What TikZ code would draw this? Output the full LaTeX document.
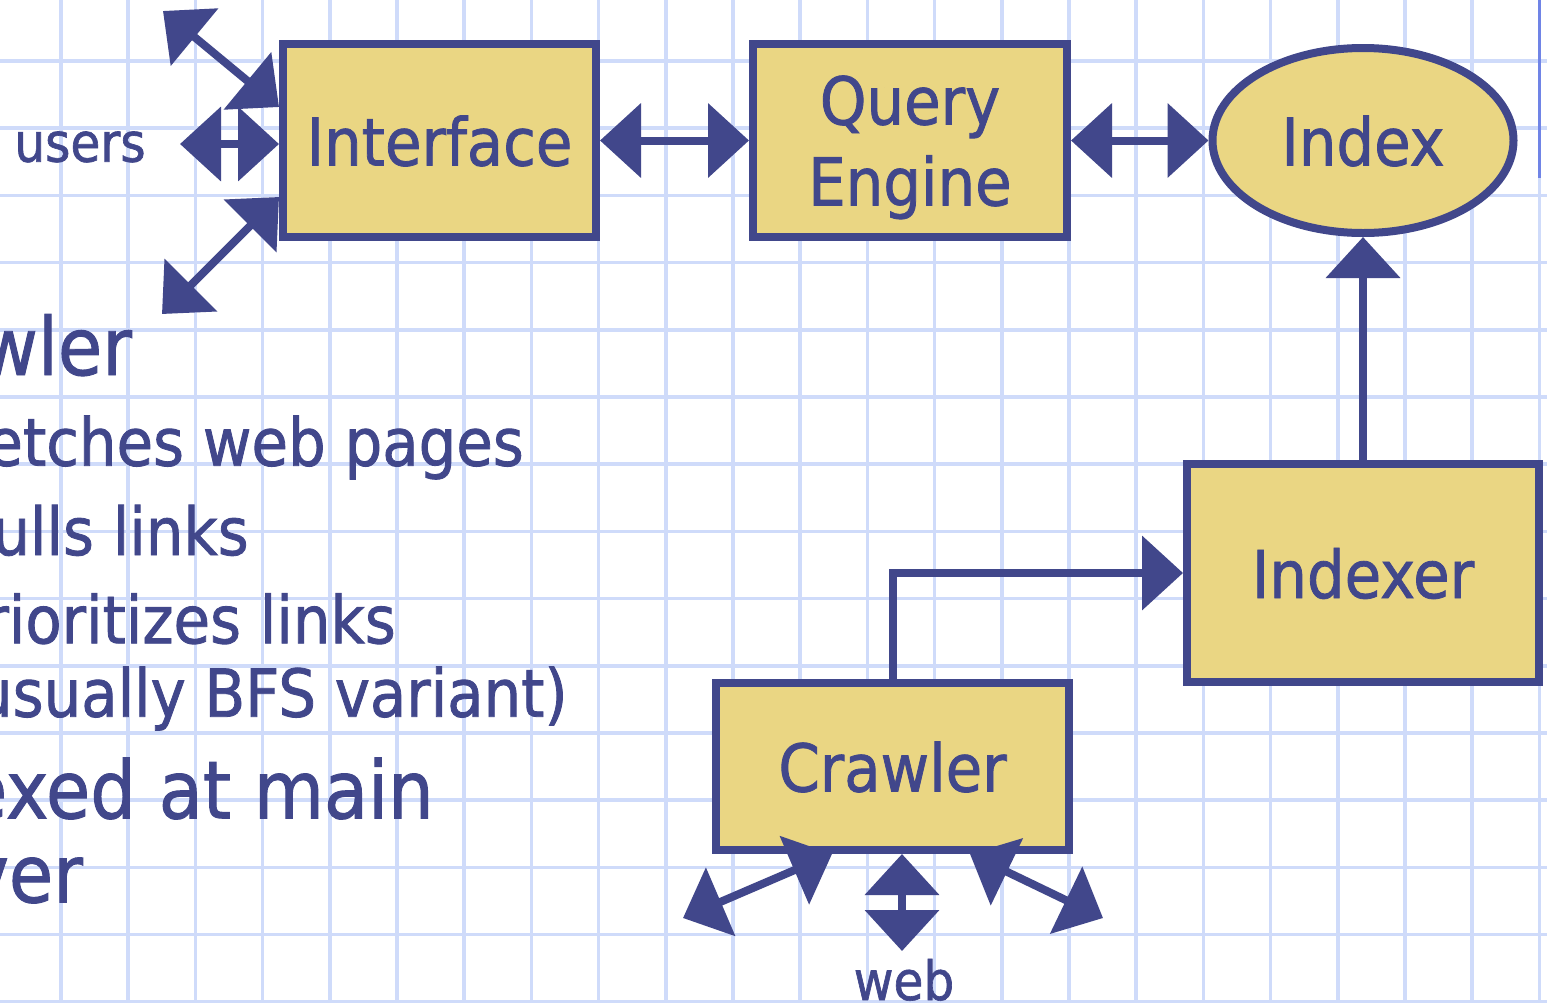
\documentclass[tikz,border=0pt]{standalone}
\usepackage{fontspec}
\setmainfont[FakeBold=1.2]{DejaVu Sans Condensed}
\usetikzlibrary{arrows.meta,shapes.geometric}
\definecolor{ink}{RGB}{65,71,139}
\definecolor{boxfill}{RGB}{234,214,131}
\definecolor{gridline}{RGB}{207,219,250}
\definecolor{rulerblue}{RGB}{112,132,230}
\newcommand\lblsize{\fontsize{66}{81}\selectfont}
\newcommand\usrsize{\fontsize{54}{64}\selectfont}
\newcommand\mainsize{\fontsize{80}{96}\selectfont}
\newcommand\subsize{\fontsize{66}{80}\selectfont}
\begin{document}
\begin{tikzpicture}[x=1pt,y=-1pt,
  >={Triangle[length=41pt,width=73pt]},
  box/.style={draw=ink,fill=boxfill,line width=8pt,text=ink,font=\lblsize,
    inner sep=0pt,text depth=0pt,align=center},
  link/.style={draw=ink,line width=8pt},
  slide/.style={anchor=base east,inner sep=0pt,text=ink},
  tag/.style={anchor=base,inner sep=0pt,text=ink,font=\usrsize}]
\useasboundingbox (0,0) rectangle (1547,1002);
\clip (0,0) rectangle (1547,1002);
\fill[white] (0,0) rectangle (1547,1002);

% squared paper
\foreach \k in {0,...,22}
  \draw[gridline,line width=3.5pt] ({61+67.2*\k},0) -- ({61+67.2*\k},1002);
\foreach \k in {0,...,14}
  \draw[gridline,line width=3.5pt] (0,{61+67.2*\k}) -- (1547,{61+67.2*\k});
\draw[rulerblue,line width=3.5pt] (1539.5,0) -- (1539.5,178);

% bullet text of the slide
\node[slide,font=\mainsize] (l1) at (132,375) {wler};
\node[slide,font=\subsize] (l2) at (524,465.7) {etches web pages};
\node[slide,font=\subsize] (l3) at (249,555) {ulls links};
\node[slide,font=\subsize] (l4) at (396,643.3) {rioritizes links};
\node[slide,font=\subsize] (l5) at (568,716.7) {usually BFS variant)};
\node[slide,font=\mainsize] (l6) at (434,818.3) {exed at main};
\node[slide,font=\mainsize] (l7) at (83,902.3) {ver};

% components
\node[box,minimum width=313pt,minimum height=193pt] (iface) at (439.5,140.5) {Interface};
\node[box,minimum width=314pt,minimum height=193pt] (qe) at (910,140.5) {Query\\Engine};
\node[box,ellipse,minimum width=301pt,minimum height=185pt] (idx) at (1363,140.5) {Index};
\node[box,minimum width=352pt,minimum height=218pt] (ixr) at (1363,573) {Indexer};
\node[box,minimum width=353pt,minimum height=167pt] (crw) at (892.5,766.5) {Crawler};

% data flow between components
\draw[link,<->] (iface.east) -- (qe.west);
\draw[link,<->] (qe.east) -- (idx.west);
\draw[link,->] (ixr.north) -- (idx.south);
\draw[link,->] (crw.north) |- (ixr.west);

% users talking to the interface
\node[tag] (users) at (80,161.7) {users};
\coordinate (uTop) at (163,11);
\coordinate (uMid) at (180,144);
\coordinate (uBot) at (162,314);
\draw[link,<->] ([yshift=33.5pt]iface.west) -- (uTop);
\draw[link,<->] ([yshift=-3.5pt]iface.west) -- (uMid);
\draw[link,<->] ([yshift=-56.5pt]iface.west) -- (uBot);

% crawler talking to the web
\node[tag] (web) at (904,1000) {web};
\coordinate (wL) at (683,918);
\coordinate (wM) at (902,951);
\coordinate (wR) at (1103,918);
\draw[link,<->] ([xshift=-60.5pt]crw.south) -- (wL);
\draw[link,<->] ([xshift=9.5pt]crw.south) -- (wM);
\draw[link,<->] ([xshift=77.5pt]crw.south) -- (wR);
\end{tikzpicture}
\end{document}
